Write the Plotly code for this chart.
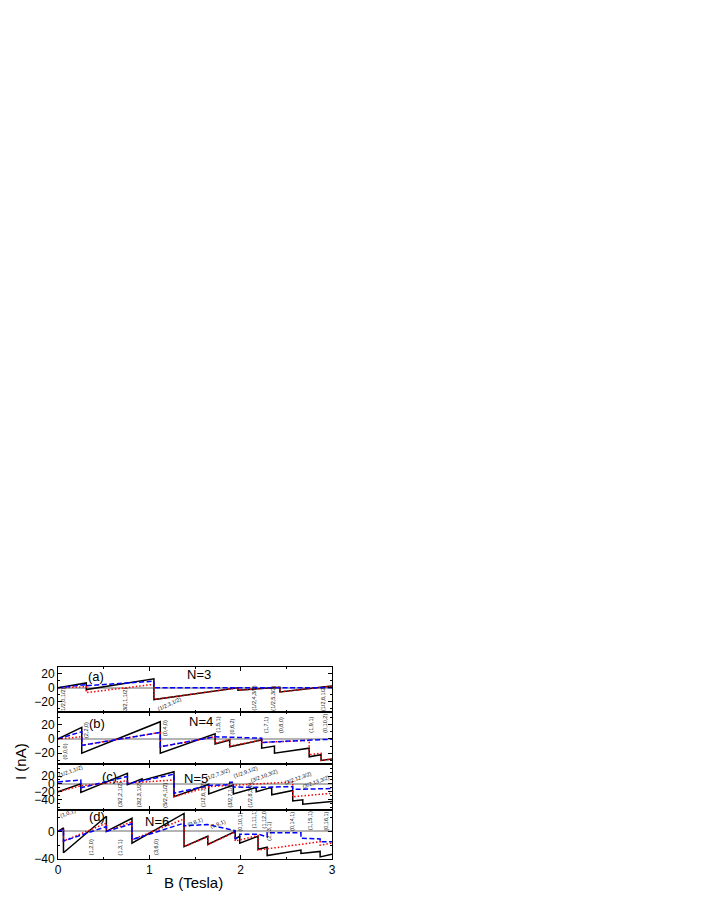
import plotly.graph_objects as go
from plotly.subplots import make_subplots

# panel (a), N=3  (B in Tesla, I in nA)
B_a_k = [0, 0.31, 0.31, 1.05, 1.05, 1.97, 1.97, 2.43, 2.43, 3.0]
I_a_k = [0, 7, -2.5, 13, -17, 0, -3.5, 0.8, -6, 2.5]
B_a_b = [0, 0.31, 0.31, 1.05, 1.05, 3.0]
I_a_b = [0, 4.5, 3, 9.5, 0, 0]
B_a_r = [0, 0.31, 0.31, 1.05, 1.05, 1.97, 1.97, 2.43, 2.43, 3.0]
I_a_r = [0, 1.5, -7, 5, -17, 0, -3.5, 0.8, -6, 2.5]

# panel (b), N=4
B_b_k = [0, 0.26, 0.26, 1.12, 1.12, 1.72, 1.72, 1.88, 1.88, 2.23, 2.23, 2.37, 2.37, 2.75, 2.75, 2.88, 2.88, 3.0]
I_b_k = [0, 16, -20, 24, -20, 7, -7, -1.5, -11, -1.5, -13, -10, -20, -13, -25, -22, -30, -28]
B_b_b = [0, 0.26, 0.26, 1.12, 1.12, 1.72, 2.23, 2.23, 2.88, 3.0]
I_b_b = [0, 10, -9, 9, -11, 3, 1, -5, -1, -0.5]
B_b_r = [0, 0.26, 0.26, 1.12, 1.12, 1.72, 1.72, 1.88, 1.88, 2.23, 2.23, 2.75, 2.75, 2.88, 2.88, 3.0]
I_b_r = [0, 3, -9, 9, -11, 3, -6, -1, -10, -1.5, -5, -2, -22, -20, -30, -28]

# panel (c), N=5
B_c_k = [0, 0.25, 0.25, 0.76, 0.76, 0.92, 0.92, 1.27, 1.27, 1.65, 1.65, 1.92, 1.92, 2.17, 2.17, 2.34, 2.34, 2.57, 2.57, 2.68, 2.68, 3.0]
I_c_k = [-20, 0, -22, 27, -2, 13, 9, 31, -33, -1, -26, -3, -26, -9, -20, -9, -28, -17, -44, -41, -52, -45]
B_c_b = [0, 0.25, 0.25, 0.76, 0.76, 1.27, 1.27, 1.65, 1.88, 1.88, 1.92, 1.92, 2.17, 2.57, 2.57, 3.0]
I_c_b = [5, 10, -10, 19, 0, 25, -24, -4, -2, 4, 4, -8, -9, -7, -14, -12]
B_c_r = [0, 0.25, 0.25, 0.76, 0.76, 1.27, 1.27, 1.65, 1.65, 2.57, 2.57, 3.0]
I_c_r = [-20, -5, -5, 8, 2, 10, -33, -8, -7, 5, -33, -24]

# panel (d), N=6
B_d_k = [0, 0.06, 0.06, 0.53, 0.53, 0.81, 0.81, 1.38, 1.38, 1.64, 1.64, 1.94, 1.94, 1.99, 1.99, 2.19, 2.19, 2.29, 2.29, 2.66, 2.66, 2.87, 2.87, 3.0]
I_d_k = [0, 5, -31, 22, 0, 19, -17, 26, -22, -7, -19, 0, -11, -7, -17, -7, -26, -23, -35, -27, -32, -29, -37, -33]
B_d_b = [0, 0.06, 0.06, 0.53, 0.53, 0.81, 0.81, 1.38, 1.38, 1.64, 1.94, 1.94, 1.99, 1.99, 2.19, 2.29, 2.29, 2.66, 2.66, 2.87, 2.87, 3.0]
I_d_b = [0, 3, -14, 7, 0, 11, -12, 12, 8, 10, 1, -11, -7, -4, -4, -8, -2, -2, -10, -11, -15, -15]
B_d_r = [0, 0.06, 0.06, 0.53, 0.53, 0.81, 0.81, 1.38, 1.38, 1.64, 1.64, 1.94, 1.94, 2.19, 2.19, 2.87, 2.87, 3.0]
I_d_r = [0, 4, -14, 12, 0, 14, -12, 18, -22, -8, -19, -1, -14, -6, -27, -15, -20, -17]

# state labels: text, B, I, angle
labels_a = [("(1/2,0,1/2)", 0.06, -18, -90), ("(3/2,1,1/2)", 0.74, -18, -90),
            ("(1/2,3,1/2)", 1.22, -24, -25), ("(1/2,4,3/2)", 2.15, -15, -90),
            ("(1/2,5,3/2)", 2.36, -15, -90), ("(1/2,6,1/2)", 2.90, -15, -90)]
labels_b = [("(0,0,0)", 0.08, -17, -90), ("(2,2,0)", 0.30, 13, -90), ("(0,4,0)", 1.17, 15, -90),
            ("(1,5,1)", 1.75, 20, -90), ("(0,6,2)", 1.91, 18, -90), ("(1,7,1)", 2.27, 20, -90),
            ("(0,8,0)", 2.44, 19, -90), ("(1,9,1)", 2.76, 20, -90), ("(0,10,2)", 2.93, 22, -90)]
labels_c = [("(1/2,1,1/2)", 0.14, 33, -20), ("(3/2,2,1/2)", 0.68, -28, -90),
            ("(3/2,3,1/2)", 0.88, -28, -90), ("(5/2,4,1/2)", 1.17, -28, -90),
            ("(1/2,6,1/2)", 1.59, -28, -90), ("(3/2,7,1/2)", 1.88, -28, -90),
            ("(1/2,8,3/2)", 2.10, -28, -90), ("(1/2,7,3/2)", 1.75, 26, -20),
            ("(1/2,9,1/2)", 2.05, 30, -20), ("(3/2,10,3/2)", 2.25, 20, -20),
            ("(3/2,12,3/2)", 2.63, 14, -20), ("(3/2,13,3/2)", 2.82, 4, -20)]
labels_d = [("(1,0,1)", 0.11, 26, -20), ("(1,2,0)", 0.36, -23, -90), ("(1,3,1)", 0.68, -23, -90),
            ("(3,6,0)", 1.08, -23, -90), ("(0,8,1)", 1.50, 14, -20), ("(1,9,1)", 1.75, 10, -20),
            ("(0,10,1)", 1.99, 14, -90), ("(1,11,1)", 2.15, 18, -90), ("(1,12,0)", 2.26, 18, -90),
            ("(2,13,1)", 2.31, 1, -90), ("(0,14,1)", 2.56, 15, -90), ("(1,15,1)", 2.76, 15, -90),
            ("(0,16,1)", 2.94, 15, -90)]

tags = [("(a)", 0.42, 17), ("(b)", 0.43, 21), ("(c)", 0.56, 18), ("(d)", 0.43, 21)]
n_tags = [("N=3", 1.54, 19), ("N=4", 1.57, 24), ("N=5", 1.51, 15), ("N=6", 1.08, 14)]

y_ranges = [[-35, 30], [-35, 37.5], [-67, 51], [-40, 31]]
y_ticks = [[-20, 0, 20], [-20, 0, 20], [-40, -20, 0, 20], [-40, 0]]
y_minor = [10, 10, 10, 20]

panels = [
    (B_a_k, I_a_k, B_a_b, I_a_b, B_a_r, I_a_r, labels_a),
    (B_b_k, I_b_k, B_b_b, I_b_b, B_b_r, I_b_r, labels_b),
    (B_c_k, I_c_k, B_c_b, I_c_b, B_c_r, I_c_r, labels_c),
    (B_d_k, I_d_k, B_d_b, I_d_b, B_d_r, I_d_r, labels_d),
]

FONT = "Arial, Liberation Sans, sans-serif"

fig = make_subplots(rows=4, cols=1, shared_xaxes=True, vertical_spacing=0,
                    row_heights=[45, 52, 46, 49])

for i, (bk, ik, bb, ib, br, ir, labs) in enumerate(panels):
    row = i + 1
    fig.add_trace(go.Scatter(x=bk, y=ik, mode="lines",
                             line=dict(color="black", width=1.5)), row=row, col=1)
    fig.add_trace(go.Scatter(x=br, y=ir, mode="lines",
                             line=dict(color="red", width=1.5, dash="1.5px,2px")), row=row, col=1)
    fig.add_trace(go.Scatter(x=bb, y=ib, mode="lines",
                             line=dict(color="blue", width=1.5, dash="5px,2.5px")), row=row, col=1)
    for text, x, y, ang in labs:
        fig.add_annotation(x=x, y=y, text=text, textangle=ang, showarrow=False,
                           font=dict(size=5.5, color="#111", family=FONT), row=row, col=1)
    fig.add_annotation(x=tags[i][1], y=tags[i][2], text=tags[i][0], showarrow=False,
                       font=dict(size=13, color="black", family=FONT), row=row, col=1)
    fig.add_annotation(x=n_tags[i][1], y=n_tags[i][2], text=n_tags[i][0], showarrow=False,
                       font=dict(size=13, color="black", family=FONT), row=row, col=1)
    fig.update_yaxes(range=y_ranges[i], tickmode="array", tickvals=y_ticks[i],
                     minor=dict(dtick=y_minor[i], tick0=0, ticks="inside", ticklen=2,
                                tickcolor="black"),
                     row=row, col=1)

fig.update_xaxes(range=[0, 3], dtick=1, ticks="inside", ticklen=4, tickcolor="black",
                 minor=dict(dtick=0.5, ticks="inside", ticklen=2, tickcolor="black"),
                 showline=True, linecolor="black", linewidth=1, mirror="ticks",
                 showgrid=False, zeroline=False, tickfont=dict(size=12, family=FONT))
fig.update_yaxes(ticks="inside", ticklen=4, tickcolor="black",
                 showline=True, linecolor="black", linewidth=1, mirror="ticks",
                 showgrid=False, zeroline=True, zerolinecolor="#b4b4b4", zerolinewidth=1.5,
                 tickfont=dict(size=12, family=FONT), automargin=False)

fig.add_annotation(x=-0.139, y=0.51, xref="paper", yref="paper", text="I (nA)",
                   xanchor="center", yanchor="middle",
                   textangle=-90, showarrow=False, font=dict(size=15, family=FONT, color="black"))
fig.add_annotation(x=0.493, y=-0.12, xref="paper", yref="paper", text="B (Tesla)",
                   xanchor="center", yanchor="middle",
                   showarrow=False, font=dict(size=15, family=FONT, color="black"))

# the page body adds an 8px offset, so the figure is sized to fit inside it
fig.update_layout(width=685, height=892, showlegend=False,
                  plot_bgcolor="white", paper_bgcolor="white",
                  margin=dict(l=50, r=361, t=659, b=41),
                  font=dict(family=FONT, color="black"))

fig.write_html("out.html")
